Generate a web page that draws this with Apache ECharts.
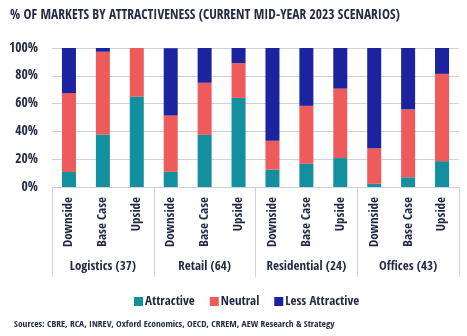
<!DOCTYPE html>
<html><head><meta charset="utf-8">
<script src="https://cdn.jsdelivr.net/npm/echarts@6/dist/echarts.min.js"></script>
<style>html,body{margin:0;padding:0;background:#fff}#c{width:467px;height:336px}</style>
</head><body><div id="c"></div>
<script>
const scenarios = ['Downside','Base Case','Upside','Downside','Base Case','Upside','Downside','Base Case','Upside','Downside','Base Case','Upside'];
const groups = ['Logistics (37)','Retail (64)','Residential (24)','Offices (43)'];
const attractive = [10.8, 37.8, 64.9, 10.9, 37.5, 64.1, 12.5, 16.7, 20.8, 2.3, 7.0, 18.6];
const neutral    = [56.8, 59.5, 35.1, 40.6, 37.5, 25.0, 20.8, 41.7, 50.0, 25.6, 48.8, 62.8];
const lessAttr   = [32.4, 2.7, 0.0, 48.4, 25.0, 10.9, 66.7, 41.7, 29.2, 72.1, 44.2, 18.6];
const yTicks = [0, 20, 40, 60, 80, 100];

const FONT = '"Open Sans Condensed", "Roboto Condensed", sans-serif';
const TXT = '#222a45';
const chart = echarts.init(document.getElementById('c'), null, {renderer:'canvas'});
chart.setOption({
  animation:false,
  textStyle:{fontFamily:FONT, fontWeight:'bold'},
  title:{text:'% OF MARKETS BY ATTRACTIVENESS (CURRENT MID-YEAR 2023 SCENARIOS)', left:5, top:3,
    textStyle:{fontFamily:FONT, fontSize:13.5, fontWeight:'bold', color:TXT}},
  graphic:[{type:'text', left:14, top:320, style:{text:'Sources: CBRE, RCA, INREV, Oxford Economics, OECD, CRREM, AEW Research & Strategy', font:'bold 9.5px '+FONT, fill:TXT}}],
  legend:{left:129, top:290, itemWidth:9, itemHeight:9, icon:'rect', itemGap:15,
    textStyle:{fontFamily:FONT, fontWeight:'bold', fontSize:13, color:TXT, padding:[0,0,0,-3]}},
  grid:{left:52, right:8, top:48, bottom:149},
  yAxis:{type:'value', min:0, max:100, interval:20,
    axisLabel:{formatter: v => yTicks.includes(v) ? v+'%' : '', fontFamily:FONT, fontWeight:'bold', fontSize:13.5, color:TXT, margin:14},
    splitLine:{lineStyle:{color:'#cfd0d8'}}, axisLine:{show:false}, axisTick:{show:false}},
  xAxis:[
    {type:'category', data:scenarios, position:'bottom',
      axisLine:{show:false}, axisTick:{show:false},
      axisLabel:{rotate:90, margin:10, fontFamily:FONT, fontWeight:'bold', fontSize:13, color:TXT, interval:0}},
    {type:'category', data:groups, position:'bottom',
      axisLine:{show:false},
      axisTick:{show:true, length:90, inside:false, interval:0, lineStyle:{color:'#d0d1d8'}},
      axisLabel:{margin:73, fontFamily:FONT, fontWeight:'bold', fontSize:13, color:TXT, interval:0}}
  ],
  series:[
    {name:'Attractive', type:'bar', stack:'a', data:attractive, barWidth:14, itemStyle:{color:'#12909f'}},
    {name:'Neutral', type:'bar', stack:'a', data:neutral, barWidth:14, itemStyle:{color:'#ef5b5b'}},
    {name:'Less Attractive', type:'bar', stack:'a', data:lessAttr, barWidth:14, itemStyle:{color:'#1b239f'}}
  ]
});
</script></body></html>
